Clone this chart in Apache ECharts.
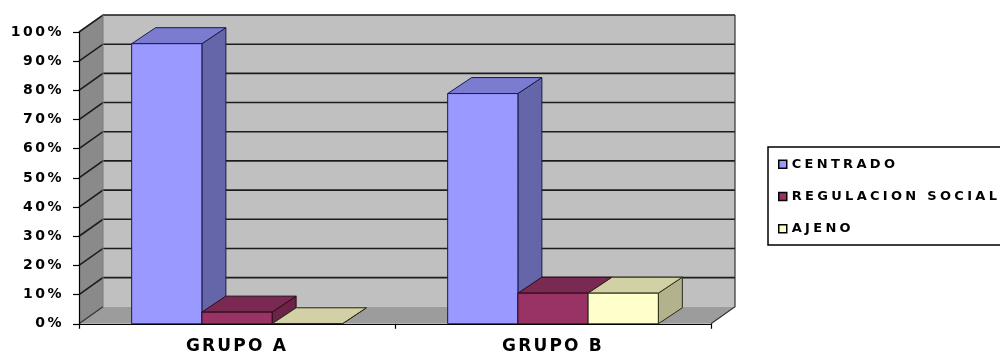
<!DOCTYPE html>
<html>
<head>
<meta charset="utf-8">
<script src="https://cdn.jsdelivr.net/npm/echarts@6/dist/echarts.min.js"></script>
<style>
  html, body { margin: 0; padding: 0; background: #fff; }
  #chart { width: 1000px; height: 356px; }
</style>
</head>
<body>
<div id="chart"></div>
<script>
// ---- data ----
const categories = ['GRUPO A', 'GRUPO B'];
const centrado = [96, 78.9];
const regulacionSocial = [4, 10.5];
const ajeno = [0, 10.5];
const seriesNames = ['CENTRADO', 'REGULACION SOCIAL', 'AJENO'];
const yTicks = [0, 10, 20, 30, 40, 50, 60, 70, 80, 90, 100];

// ---- wide tracking for the bold labels (per font size) ----
const TRACKING = { 14: 2.5, 17: 2.2, 13: 3.3 };
(function () {
  const P = CanvasRenderingContext2D.prototype;
  function track(ctx) {
    const m = /(\d+)px/.exec(ctx.font);
    const s = m ? TRACKING[m[1]] : 0;
    ctx.letterSpacing = (s || 0) + 'px';
  }
  ['fillText', 'strokeText', 'measureText'].forEach(function (fn) {
    const orig = P[fn];
    P[fn] = function () { track(this); return orig.apply(this, arguments); };
  });
})();

// ---- 3-D look ----
const WALL_DX = 24, WALL_DY = -17;   // depth of walls / floor
const BAR_DX = 24, BAR_DY = -16;     // depth of bars
const palette = [
  { front: '#9999FF', top: '#7B7BD0', side: '#6565AA', edge: '#1a1a4a' },
  { front: '#993366', top: '#7A2952', side: '#6B2347', edge: '#2a0a18' },
  { front: '#FFFFCC', top: '#D2D1A6', side: '#B3B28C', edge: '#2a2a1a' }
];

const chart = echarts.init(document.getElementById('chart'));

function wallsItem(params, api) {
  const p0 = api.coord([0, 0]);
  const p100 = api.coord([0, 100]);
  const cs = params.coordSys;
  const xl = cs.x, xr = cs.x + cs.width;
  const yb = p0[1], yt = p100[1];
  const children = [];
  // back wall
  children.push({ type: 'polygon', shape: { points: [
    [xl + WALL_DX, yt + WALL_DY], [xr + WALL_DX, yt + WALL_DY],
    [xr + WALL_DX, yb + WALL_DY], [xl + WALL_DX, yb + WALL_DY]] },
    style: { fill: '#C0C0C0', stroke: null } });
  // side wall
  children.push({ type: 'polygon', shape: { points: [
    [xl, yb], [xl, yt], [xl + WALL_DX, yt + WALL_DY], [xl + WALL_DX, yb + WALL_DY]] },
    style: { fill: '#8A8A8A', stroke: null } });
  // floor
  children.push({ type: 'polygon', shape: { points: [
    [xl, yb], [xr, yb], [xr + WALL_DX, yb + WALL_DY], [xl + WALL_DX, yb + WALL_DY]] },
    style: { fill: '#9C9C9C', stroke: null } });
  // gridlines across side wall and back wall
  yTicks.forEach(function (v) {
    const y = api.coord([0, v])[1];
    if (v === 0) {
      children.push({ type: 'line', shape: { x1: xl, y1: y, x2: xl + WALL_DX, y2: y + WALL_DY },
        style: { stroke: '#333', lineWidth: 1.2 } });
      return;
    }
    children.push({ type: 'polyline', shape: { points: [
      [xl, y], [xl + WALL_DX, y + WALL_DY], [xr + WALL_DX, y + WALL_DY]] },
      style: { stroke: '#1c1c1c', lineWidth: 1.6, fill: null } });
  });
  // outer edges
  children.push({ type: 'polyline', shape: { points: [
    [xr + WALL_DX, yt + WALL_DY], [xr + WALL_DX, yb + WALL_DY], [xr, yb]] },
    style: { stroke: '#333', lineWidth: 1.2, fill: null } });
  children.push({ type: 'line', shape: { x1: xl + WALL_DX, y1: yt + WALL_DY, x2: xl + WALL_DX, y2: yb + WALL_DY },
    style: { stroke: '#7a7a7a', lineWidth: 1 } });
  return { type: 'group', children: children };
}

function barRenderer(idx) {
  const c = palette[idx];
  return function (params, api) {
    const cat = api.value(0);
    const val = api.value(1);
    const base = api.coord([cat, 0]);
    const top = api.coord([cat, val])[1];
    const catW = api.size([1, 0])[0];
    const bw = catW / 4.5;
    const x = base[0] - 1.5 * bw + idx * bw;
    const yb = base[1];
    const lw = 1;
    return { type: 'group', children: [
      { type: 'polygon', shape: { points: [
          [x + bw, top], [x + bw, yb], [x + bw + BAR_DX, yb + BAR_DY], [x + bw + BAR_DX, top + BAR_DY]] },
        style: { fill: c.side, stroke: c.edge, lineWidth: lw } },
      { type: 'polygon', shape: { points: [
          [x, top], [x + bw, top], [x + bw + BAR_DX, top + BAR_DY], [x + BAR_DX, top + BAR_DY]] },
        style: { fill: c.top, stroke: c.edge, lineWidth: lw } },
      { type: 'rect', shape: { x: x, y: top, width: bw, height: yb - top },
        style: { fill: c.front, stroke: c.edge, lineWidth: lw } }
    ] };
  };
}

const valueSets = [centrado, regulacionSocial, ajeno];
const barSeries = valueSets.map(function (vals, i) {
  return {
    name: seriesNames[i],
    type: 'custom',
    renderItem: barRenderer(i),
    itemStyle: { color: palette[i].front },
    encode: { x: 0, y: 1 },
    data: vals.map(function (v, k) { return [k, v]; }),
    z: 3 + i
  };
});

const FONT = "'DejaVu Sans', 'Liberation Sans', Arial, sans-serif";

chart.setOption({
  animation: false,
  backgroundColor: '#ffffff',
  grid: { left: 79, right: 289, top: 32, bottom: 28 },
  legend: {
    orient: 'vertical',
    left: 768,
    top: 147,
    data: seriesNames,
    icon: 'rect',
    itemWidth: 8,
    itemHeight: 8,
    itemGap: 16,
    padding: [9, 30, 8, 10],
    borderColor: '#000',
    borderWidth: 1.5,
    itemStyle: { borderColor: '#000', borderWidth: 1.5 },
    textStyle: { fontFamily: FONT, fontWeight: 'bold', fontSize: 13, color: '#000' },
    selectedMode: false
  },
  xAxis: {
    type: 'category',
    data: categories,
    boundaryGap: true,
    axisLine: { lineStyle: { color: '#000', width: 1.2 } },
    axisTick: { show: true, alignWithLabel: false, length: 5, lineStyle: { color: '#000', width: 1.2 } },
    axisLabel: { margin: 13, fontFamily: FONT, fontWeight: 'bold', fontSize: 17, color: '#000' },
    splitLine: { show: false },
    z: 10
  },
  yAxis: {
    type: 'value',
    min: 0,
    max: 100,
    interval: 10,
    axisLine: { show: true, lineStyle: { color: '#000', width: 1.2 } },
    axisTick: { show: true, length: 6, lineStyle: { color: '#000', width: 1.2 } },
    axisLabel: { margin: 15, formatter: '{value}%', fontFamily: FONT, fontWeight: 'bold', fontSize: 14, color: '#000' },
    splitLine: { show: false },
    z: 10
  },
  series: [
    {
      name: 'walls',
      type: 'custom',
      renderItem: wallsItem,
      data: [[0, 0]],
      encode: { x: 0, y: 1 },
      silent: true,
      z: 1
    }
  ].concat(barSeries)
});
</script>
</body>
</html>
